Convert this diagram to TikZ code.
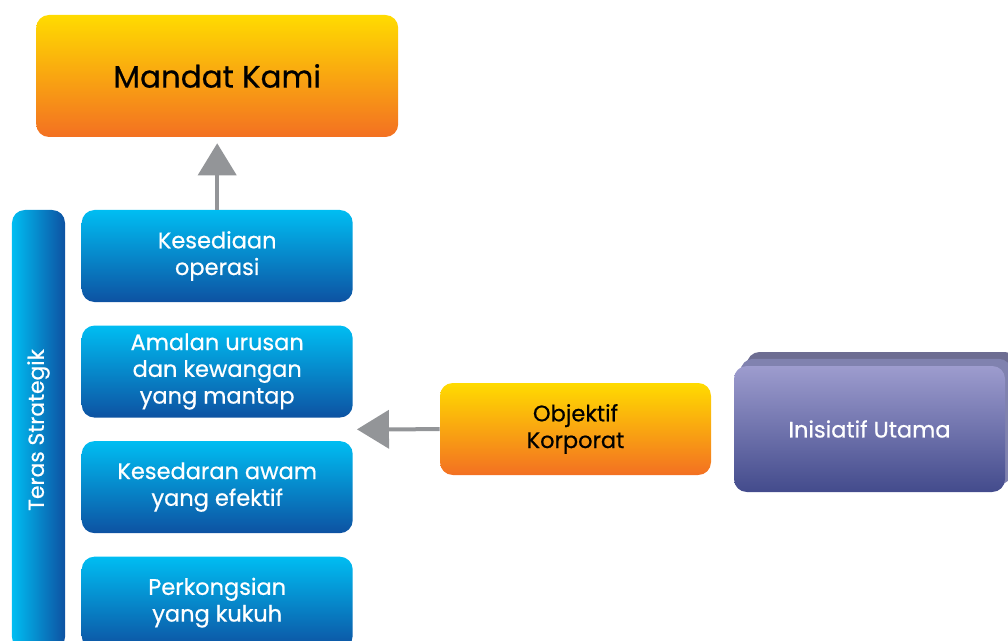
\documentclass[tikz,border=0pt]{standalone}
\usepackage{fontspec}
\setmainfont{Poppins}[FakeBold=0.6]
\usepackage{xcolor}
\usepackage{tikz}
\usetikzlibrary{arrows.meta,positioning,calc,shadows}
\definecolor{cyantop}{HTML}{00BDF2}
\definecolor{bluebot}{HTML}{0D52A2}
\definecolor{goldtop}{HTML}{FFDB00}
\definecolor{orangebot}{HTML}{F37022}
\definecolor{purptop}{HTML}{9D9CCE}
\definecolor{purpbot}{HTML}{434B8C}
\definecolor{stackback}{HTML}{6D6D92}
\definecolor{stackmid}{HTML}{8082AF}
\definecolor{arrowgray}{HTML}{939598}

\begin{document}
\begin{tikzpicture}[
  tile/.style={rounded corners=3.2mm, align=center, inner sep=2pt, minimum width=6.775cm, minimum height=2.3cm, font=\fontsize{16}{19}\selectfont},
  core/.style={tile, top color=cyantop, bottom color=bluebot, text=white},
  goal/.style={tile, top color=goldtop, bottom color=orangebot, text=black},
  mandatbox/.style={goal, minimum width=9.05cm, minimum height=3.05cm, font=\fontsize{22}{26}\selectfont},
  tbar/.style={rounded corners=3.2mm, minimum width=1.325cm, minimum height=11cm, inner sep=0pt, left color=cyantop, right color=bluebot, text=white, font=\fontsize{15.5}{18}\selectfont},
  initbox/.style={tile, minimum height=3.15cm, top color=purptop, bottom color=purpbot, text=white,
    general shadow={fill=stackback, shadow xshift=0.32cm, shadow yshift=0.35cm},
    general shadow={fill=stackmid, shadow xshift=0.16cm, shadow yshift=0.18cm}},
  arr/.style={-{Triangle[length=8mm, width=9.5mm]}, line width=1mm, draw=arrowgray, fill=arrowgray}
]
  \useasboundingbox (0,0) rectangle (25.2,-16.025);

  \node[mandatbox] (mandat) at (5.43,-1.9) {Mandat Kami};

  \node[core] (kesediaan) at (5.43,-6.4) {Kesediaan\\operasi};
  \node[core, below=0.575cm of kesediaan] (amalan) {Amalan urusan\\dan kewangan\\yang mantap};
  \node[core, below=0.575cm of amalan] (kesedaran) {Kesedaran awam\\yang efektif};
  \node[core, below=0.575cm of kesedaran] (perkongsian) {Perkongsian\\yang kukuh};

  \node[tbar] (teras) at (0.9625,-10.75) {\rotatebox{90}{Teras Strategik}};

  \node[goal] (objektif) at (14.3875,-10.725) {Objektif\\Korporat};
  \node[initbox] (inisiatif) at (21.7375,-10.725) {Inisiatif Utama};

  \coordinate (gap) at ($(amalan.south east)!0.5!(kesedaran.north east)$);

  \draw[arr, shorten >=0.15cm] (kesediaan) -- (mandat);
  \draw[arr, shorten >=0.1cm] (objektif) -- (gap);
\end{tikzpicture}
\end{document}
